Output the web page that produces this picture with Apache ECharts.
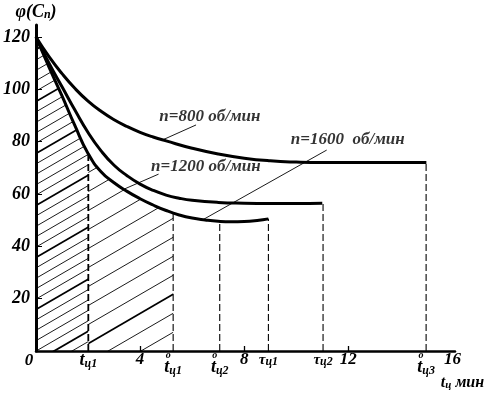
<!DOCTYPE html>
<html><head><meta charset="utf-8">
<script src="https://cdn.jsdelivr.net/npm/echarts@6/dist/echarts.min.js"></script>
<style>html,body{margin:0;padding:0;background:#fff}#c{width:487px;height:396px}</style>
</head><body><div id="c"></div>
<script>
// ---- data ----
const xUpper = [0,0.5,1,1.5,2,2.5,3,3.5,4,4.5,5,6,7,8,9,10,11,12,13,14,15];
const yUpper = [120,112.5,106,100.3,95.5,91.6,88.4,85.8,83.6,81.8,80.3,77.5,75.3,73.7,72.7,72.2,72,72,72,72,72];
const xMiddle = [0,0.5,1,1.5,2,2.5,3,3.5,4,4.5,5,5.5,6,7,8,9,10,11];
const yMiddle = [120,110,101,92,83.5,76.5,71,67,63.8,61.4,59.6,58.4,57.6,56.8,56.5,56.4,56.4,56.5];
const xLower = [0,0.5,1,1.5,2,2.5,3,3.5,4,4.5,5,5.5,6,6.5,7,7.5,8,8.5,8.93];
const yLower = [120,108.5,97.5,86,75.5,68.5,64.3,61,58.2,55.8,53.7,52,50.8,50.1,49.6,49.4,49.5,49.9,50.5];
const curveNames = ['n=800 об/мин','n=1200 об/мин','n=1600  об/мин'];
// vertical guide lines (x, top value)
const guideX   = [2.01, 5.27, 7.06, 8.93, 11.03, 14.99];
const guideTop = [75.2, 52.6, 49.4, 50.5, 56.5, 72.0];
// tick labels
const yTickValues = [20,40,60,80,100,120];
const xTickValues = [4,8,12];
const xLabelValues = [0, 2.01, 4, 5.27, 7.06, 8, 8.93, 11.03, 12, 14.99, 16];
const xLabelTexts = ['{zero|0}','{t|t}{s|ц1}','{n|4}','{r|o}\n{t|t}{s|ц1}','{r|o}\n{t|t}{s|ц2}','{n|8}',
  '{tau|τ}{s2|ц1}','{tau|τ}{s2|ц2}','{n|12}','{r|o}\n{t|t}{s|ц3}','{n|16}'];

// ---- layout / style ----
const FF = "'Liberation Serif','Times New Roman',serif";
const F = (size, extra) => Object.assign({fontFamily:FF, fontWeight:'bold', fontStyle:'italic', fontSize:size, color:'#000'}, extra||{});
const labelPos = [[6.68, 89.4],[6.53, 70.3],[11.98, 80.7]];
const leaders = [[[6.15,86.4],[4.87,80.7]], [[4.71,67.6],[3.37,61.8]], [[11.17,76.8],[6.40,50.1]]];
const hatchSections = [
  {x0:0, x1:2.01, spacing:10.4, ref:257.5, boldEvery:5},
  {x0:2.01, x1:5.27, spacing:19, ref:343.5, boldEvery:0}
];
const slope = 0.58;

const zip = (xs, ys) => xs.map((x,i)=>[x, ys[i]]);
function lowerAt(x){
  for (let i=0;i<xLower.length-1;i++){
    if (x>=xLower[i] && x<=xLower[i+1]){
      const t=(x-xLower[i])/(xLower[i+1]-xLower[i]);
      return yLower[i]+t*(yLower[i+1]-yLower[i]);
    }
  }
  return yLower[yLower.length-1];
}

const series = [];
// hatch
series.push({
  type:'custom', silent:true, z:1,
  data:[[0,0]],
  renderItem:function(params, api){
    const children = [];
    hatchSections.forEach(sec=>{
      const poly = [api.coord([sec.x0,0]), api.coord([sec.x0, lowerAt(sec.x0)])];
      xLower.forEach((x,i)=>{ if (x>sec.x0 && x<sec.x1) poly.push(api.coord([x,yLower[i]])); });
      poly.push(api.coord([sec.x1, lowerAt(sec.x1)]));
      poly.push(api.coord([sec.x1,0]));
      const pa = poly[0][0], pb = poly[poly.length-1][0];
      const axisY = poly[0][1];
      let topY = Math.min.apply(null, poly.map(p=>p[1]));
      const lines = [];
      const w = pb-pa;
      const kMin = Math.floor((topY - sec.ref)/sec.spacing)-1;
      const kMax = Math.ceil((axisY + slope*w + 5 - sec.ref)/sec.spacing)+1;
      for (let k=kMin;k<=kMax;k++){
        const y = sec.ref + k*sec.spacing;
        const bold = sec.boldEvery ? (((k%sec.boldEvery)+sec.boldEvery)%sec.boldEvery===0) : (k===0);
        lines.push({type:'line', shape:{x1:pa-2, y1:y+2*slope, x2:pb+2, y2:y-slope*(w+2)},
          style:{stroke:'#000', lineWidth: bold?1.8:0.9}});
      }
      children.push({type:'group', children:lines, clipPath:{type:'polygon', shape:{points:poly}}});
    });
    return {type:'group', children:children};
  }
});
// guides
guideX.forEach((x,i)=>{
  series.push({type:'line', data:[[x,0],[x,guideTop[i]]], symbol:'none', silent:true, z:2,
    lineStyle:{color:'#000', width: i===0?1.8:1.1, type:[7,3]}});
});
// curves
[[xUpper,yUpper],[xMiddle,yMiddle],[xLower,yLower]].forEach((c,i)=>{
  series.push({type:'line', name:curveNames[i], data:zip(c[0],c[1]), symbol:'none', smooth:0.5,
    silent:true, z:4, lineStyle:{color:'#000', width:3}});
});
// leaders
leaders.forEach(l=>{
  series.push({type:'line', data:l, symbol:'none', silent:true, z:3, lineStyle:{color:'#000', width:0.9}});
});
// curve labels
series.push({type:'scatter', symbolSize:0, silent:true, z:5,
  data: labelPos.map((p,i)=>({value:p, label:{show:true, position:'inside', formatter:curveNames[i]}})),
  label:Object.assign({show:true}, F(17))
});

const chart = echarts.init(document.getElementById('c'), null, {renderer:'canvas'});
chart.setOption({
  animation:false,
  backgroundColor:'#fff',
  grid:{left:34, right:31, top:25, bottom:45, containLabel:false},
  xAxis:{type:'value', min:0, max:16.1,
    axisLine:{lineStyle:{color:'#000', width:2.5}},
    splitLine:{show:false},
    axisTick:{show:true, inside:true, length:5, customValues:xTickValues, lineStyle:{color:'#000', width:1.3}},
    axisLabel:{show:true, margin:1, customValues:xLabelValues,
      formatter:function(v){ const i = xLabelValues.indexOf(v); return i>=0 ? xLabelTexts[i] : ''; },
      rich:{
        n:F(17,{lineHeight:15}),
        zero:F(17,{lineHeight:15, padding:[2,14,0,0]}),
        t:F(18,{lineHeight:17}),
        s:F(12,{lineHeight:17, padding:[6,0,0,0]}),
        s2:F(12,{lineHeight:16, padding:[3,0,0,0]}),
        tau:F(15,{lineHeight:16}),
        r:F(10,{lineHeight:7, padding:[0,10,0,0]})
      }
    },
    name:'{a|t}{b|ц}{a| мин}', nameLocation:'end', nameGap:29,
    nameTextStyle:{align:'right', verticalAlign:'top', padding:[24,0,0,0],
      rich:{a:F(16), b:F(11,{padding:[4,0,0,0]})}}
  },
  yAxis:{type:'value', min:0, max:124.6,
    axisLine:{lineStyle:{color:'#000', width:3}},
    splitLine:{show:false},
    axisTick:{show:true, inside:true, length:6, customValues:yTickValues, lineStyle:{color:'#000', width:1}},
    axisLabel:Object.assign({show:true, margin:6, customValues:yTickValues}, F(18)),
    name:'{a|φ(C}{b|п}{a|)}', nameLocation:'end', nameGap:4,
    nameTextStyle:{rich:{a:F(18), b:F(12,{padding:[5,0,0,0]})}}
  },
  series:series
});
</script>
</body></html>
